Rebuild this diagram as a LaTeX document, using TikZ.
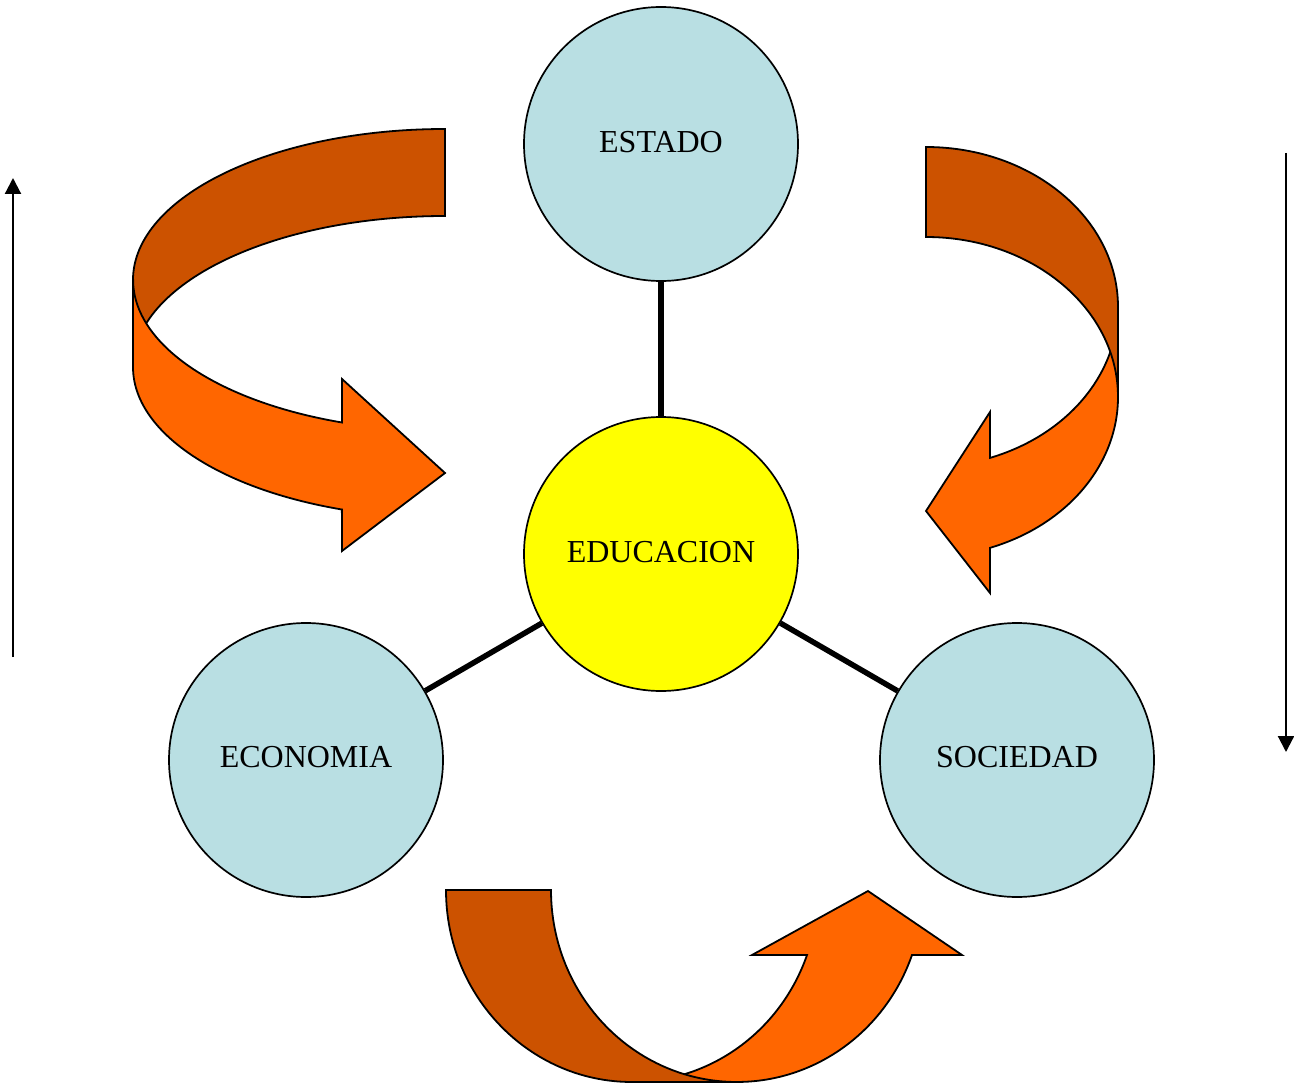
\documentclass[tikz,border=0pt]{standalone}
\usepackage{fontspec}
\setmainfont{Liberation Serif}
\usetikzlibrary{arrows.meta}
\definecolor{lblue}{RGB}{185,223,227}
\definecolor{dorange}{RGB}{204,82,0}
\definecolor{orng}{RGB}{255,102,0}
\definecolor{yell}{RGB}{255,255,0}
\begin{document}
\begin{tikzpicture}[x=1pt,y=-1pt,
  bub/.style={circle,draw=black,line width=1.7pt,minimum size=274pt,inner sep=0pt,
    font=\fontsize{32}{36}\selectfont,text=black},
  lbl/.style={font=\fontsize{32}{36}\selectfont,text=black,inner sep=0pt},
  link/.style={draw=black,line width=5.5pt},
  back/.style={fill=dorange,draw=black,line width=1.8pt,line join=miter},
  front/.style={fill=orng,draw=black,line width=1.8pt,line join=miter},
  side/.style={draw=black,line width=2.2pt,-{Triangle[length=16pt,width=16pt]}}]
\useasboundingbox (0,0) rectangle (1294,1086);
% circles
\node[bub,fill=lblue] (est) at (661,144) {};
\node[bub,fill=yell] (edu) at (661,554) {};
\node[bub,fill=lblue] (eco) at (306,760) {};
\node[bub,fill=lblue] (soc) at (1017,760) {};
\node[lbl] (testado) at (661,142) {ESTADO};
\node[lbl] (teduc) at (661,552) {EDUCACION};
\node[lbl] (tecon) at (306,757) {ECONOMIA};
\node[lbl] (tsoc) at (1017,757) {SOCIEDAD};
\draw[link] (edu) -- (est);
\draw[link] (edu) -- (eco);
\draw[link] (edu) -- (soc);
% left curved arrow (back first, then front)
\draw[back] (445,129) arc[start angle=-90,end angle=-180,x radius=312,y radius=151]
  -- (133,367) arc[start angle=180,end angle=270,x radius=312,y radius=151] -- cycle;
\draw[front] (133,280) -- (133,367)
  arc[start angle=180,end angle=109.3,x radius=312,y radius=151]
  -- (342,551) -- (445,473) -- (342,379) -- (342,422.5)
  arc[start angle=109.3,end angle=180,x radius=312,y radius=151] -- cycle;
% right curved arrow (front first, then back)
\draw[front] (1118,307) -- (1118,397)
  arc[start angle=0,end angle=70.53,x radius=192,y radius=160]
  -- (990,593) -- (926,511) -- (990,412) -- (990,457.9)
  arc[start angle=70.53,end angle=0,x radius=192,y radius=160] -- cycle;
\draw[back] (926,147) arc[start angle=-90,end angle=0,x radius=192,y radius=160]
  -- (1118,397) arc[start angle=0,end angle=-90,x radius=192,y radius=160] -- cycle;
% bottom curved arrow (front first, then back)
\draw[front] (632,1082) arc[start angle=90,end angle=19.8,x radius=186,y radius=192]
  -- (752,955) -- (868,891) -- (962,955) -- (912,955)
  arc[start angle=19.8,end angle=90,x radius=186,y radius=192] -- cycle;
\draw[back] (446,890) arc[start angle=180,end angle=90,x radius=186,y radius=192]
  -- (737,1082) arc[start angle=90,end angle=180,x radius=186,y radius=192] -- cycle;
% side arrows
\coordinate (la) at (13,657);
\coordinate (lb) at (13,178);
\coordinate (ra) at (1286,153);
\coordinate (rb) at (1286,752);
\draw[side] (la) -- (lb);
\draw[side] (ra) -- (rb);
\end{tikzpicture}
\end{document}
